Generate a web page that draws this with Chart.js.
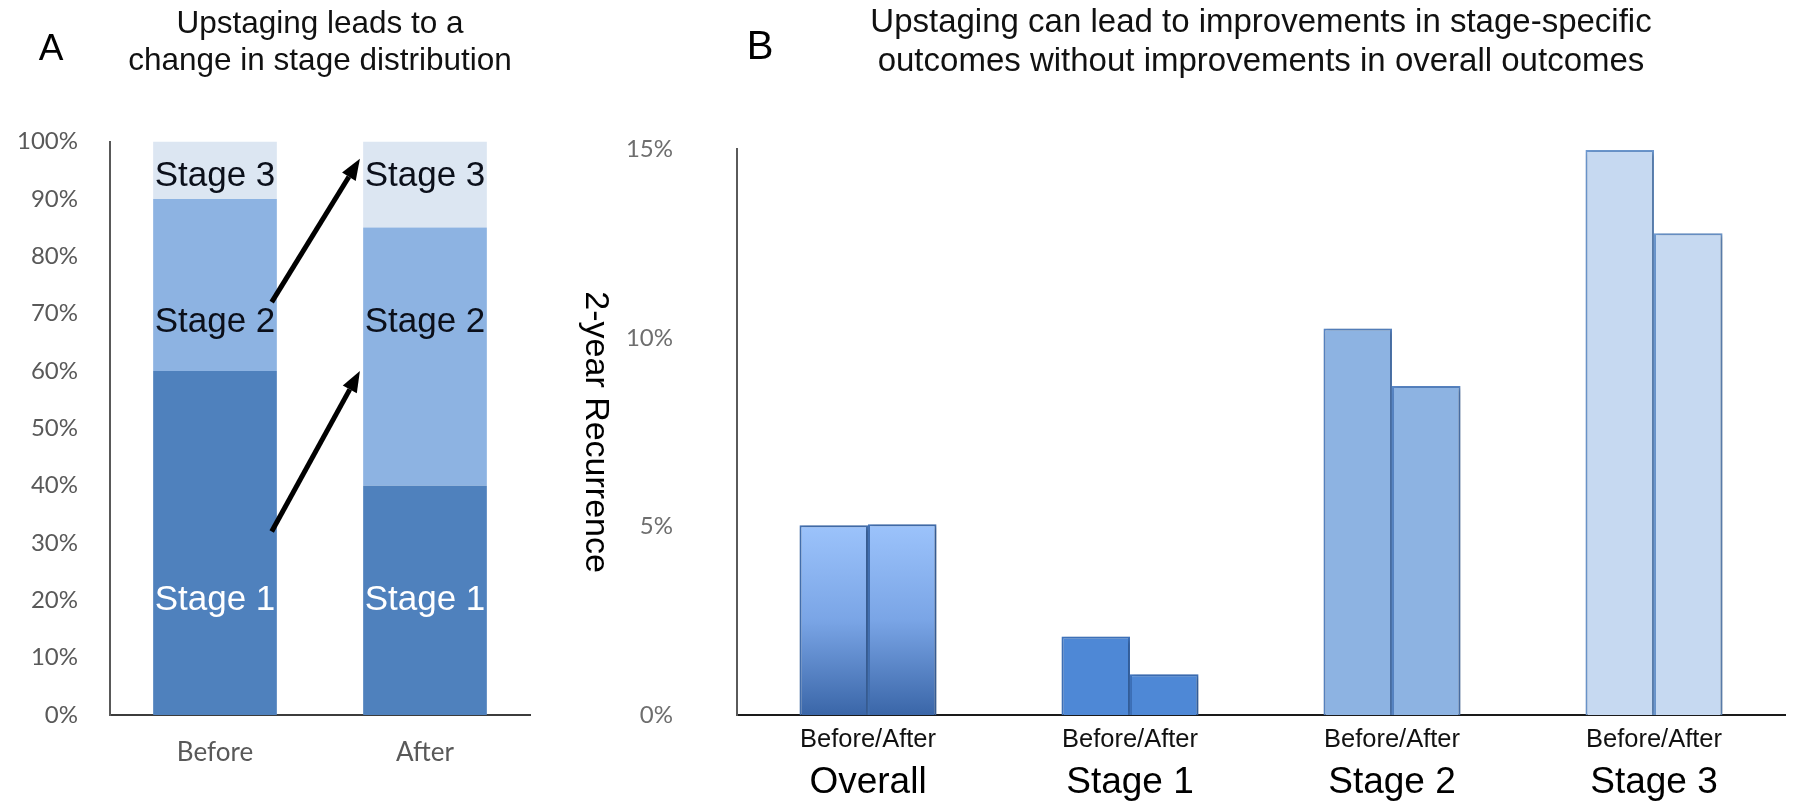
<!DOCTYPE html>
<html>
<head>
<meta charset="utf-8">
<script src="https://cdn.jsdelivr.net/npm/chart.js@4.4.1/dist/chart.umd.min.js"></script>
<style>
  html, body { margin: 0; padding: 0; background: #fff; }
  body { width: 1794px; height: 808px; position: relative; overflow: hidden; }
  #panelA { position: absolute; left: 0; top: 0; width: 560px; height: 808px; }
  #panelB { position: absolute; left: 560px; top: 0; width: 1234px; height: 808px; }
  canvas { display: block; }
</style>
</head>
<body>
<div id="panelA"><canvas id="chartA" width="560" height="808"></canvas></div>
<div id="panelB"><canvas id="chartB" width="1234" height="808"></canvas></div>
<script>
// ---- Panel A: stage distribution before and after upstaging (percent of patients)
const stageCategories = ['Before', 'After'];
const stage1Share = [60, 40];
const stage2Share = [30, 45];
const stage3Share = [10, 15];

// ---- Panel B: 2-year recurrence (%) by group, before and after upstaging
const outcomeGroups = ['Overall', 'Stage 1', 'Stage 2', 'Stage 3'];
const recurrenceBefore = [5.03, 2.08, 10.25, 14.98];
const recurrenceAfter = [5.06, 1.08, 8.72, 12.77];
const pairLabel = 'Before/After';

const SANS = "'Liberation Sans', Arial, Helvetica, sans-serif";
const SOFT = "Lato, 'Open Sans', sans-serif";

// Big panel letter (A / B) in the top-left corner of each chart
const panelLetter = {
  id: 'panelLetter',
  afterDraw(chart, args, opts) {
    const ctx = chart.ctx;
    ctx.save();
    ctx.font = opts.font;
    ctx.fillStyle = opts.color;
    ctx.textAlign = 'center';
    ctx.textBaseline = 'middle';
    ctx.fillText(opts.text, opts.x, opts.y);
    ctx.restore();
  }
};

// Writes each dataset's name inside its stacked segment
const segmentLabels = {
  id: 'segmentLabels',
  afterDatasetsDraw(chart, args, opts) {
    const { ctx, scales: { y } } = chart;
    ctx.save();
    ctx.font = opts.font;
    ctx.textAlign = 'center';
    ctx.textBaseline = 'middle';
    chart.data.datasets.forEach((ds, i) => {
      chart.getDatasetMeta(i).data.forEach(bar => {
        ctx.fillStyle = opts.colors[i];
        ctx.fillText(ds.label, bar.x, y.getPixelForValue(opts.levels[i]));
      });
    });
    ctx.restore();
  }
};

// Arrows showing patients moving up a stage (endpoints in axis units)
const shiftArrows = {
  id: 'shiftArrows',
  afterDatasetsDraw(chart, args, opts) {
    const { ctx, scales: { x, y } } = chart;
    ctx.save();
    ctx.strokeStyle = opts.color;
    ctx.fillStyle = opts.color;
    ctx.lineWidth = opts.lineWidth;
    ctx.lineCap = 'butt';
    opts.arrows.forEach(a => {
      const x0 = x.getPixelForValue(a.from[0]);
      const y0 = y.getPixelForValue(a.from[1]);
      const x1 = x.getPixelForValue(a.to[0]);
      const y1 = y.getPixelForValue(a.to[1]);
      const ang = Math.atan2(y1 - y0, x1 - x0);
      const L = opts.headLength, W = opts.headWidth / 2;
      const bx = x1 - L * Math.cos(ang), by = y1 - L * Math.sin(ang);
      ctx.beginPath();
      ctx.moveTo(x0, y0);
      ctx.lineTo(bx, by);
      ctx.stroke();
      ctx.beginPath();
      ctx.moveTo(x1, y1);
      ctx.lineTo(bx + W * Math.sin(ang), by - W * Math.cos(ang));
      ctx.lineTo(bx - W * Math.sin(ang), by + W * Math.cos(ang));
      ctx.closePath();
      ctx.fill();
    });
    ctx.restore();
  }
};

// Vertical axis title that reads top-to-bottom
const sideTitle = {
  id: 'sideTitle',
  afterDraw(chart, args, opts) {
    const { ctx, chartArea } = chart;
    ctx.save();
    ctx.translate(opts.x, (chartArea.top + chartArea.bottom) / 2);
    ctx.rotate(Math.PI / 2);
    ctx.font = opts.font;
    ctx.fillStyle = opts.color;
    ctx.textAlign = 'center';
    ctx.textBaseline = 'middle';
    ctx.fillText(opts.text, 0, 0);
    ctx.restore();
  }
};

// Soft drop shadow under the recurrence bars
const barShadow = {
  id: 'barShadow',
  beforeDatasetsDraw(chart, args, opts) {
    const ctx = chart.ctx;
    ctx.save();
    ctx.shadowColor = opts.color;
    ctx.shadowBlur = opts.blur;
    ctx.shadowOffsetX = opts.offsetX;
    ctx.shadowOffsetY = opts.offsetY;
  },
  afterDatasetsDraw(chart) {
    chart.ctx.restore();
  }
};

// ---------------- Panel A ----------------
new Chart(document.getElementById('chartA'), {
  type: 'bar',
  data: {
    labels: stageCategories,
    datasets: [
      { label: 'Stage 1', data: stage1Share, backgroundColor: '#4F81BD' },
      { label: 'Stage 2', data: stage2Share, backgroundColor: '#8DB3E2' },
      { label: 'Stage 3', data: stage3Share, backgroundColor: '#DCE6F2' }
    ]
  },
  options: {
    responsive: false,
    animation: false,
    devicePixelRatio: 1,
    layout: { padding: { top: 0, right: 30, bottom: 0, left: 0 } },
    datasets: { bar: { categoryPercentage: 0.589, barPercentage: 1, borderWidth: 0 } },
    scales: {
      x: {
        stacked: true,
        ticks: { font: { family: SOFT, size: 26 }, color: '#595959', padding: 22 },
        grid: { display: false, drawTicks: false },
        border: { display: true, color: '#3c3c3c', width: 2 },
        afterFit: s => { s.height = 93; }
      },
      y: {
        stacked: true,
        min: 0,
        max: 100,
        ticks: { stepSize: 10, callback: v => v + '%', font: { family: SOFT, size: 24 }, color: '#595959', padding: 32 },
        grid: { display: false, drawTicks: false },
        border: { display: true, color: '#595959', width: 2 },
        afterFit: s => { s.width = 110; }
      }
    },
    plugins: {
      legend: { display: false },
      tooltip: { enabled: false },
      title: {
        display: true,
        fullSize: false,
        text: ['Upstaging leads to a', 'change in stage distribution'],
        font: { family: SANS, size: 31.5, weight: 'normal', lineHeight: 1.2 },
        color: '#111',
        padding: { top: 5, bottom: 61 }
      },
      panelLetter: { text: 'A', x: 51, y: 50, font: '37px ' + SANS, color: '#000' },
      segmentLabels: { font: '35px ' + SANS, levels: [20, 68.5, 94], colors: ['#ffffff', '#0b0f1a', '#0b0f1a'] },
      shiftArrows: {
        color: '#000',
        lineWidth: 5,
        headLength: 21,
        headWidth: 16,
        arrows: [
          { from: [0.27, 32], to: [0.69, 60] },
          { from: [0.27, 72], to: [0.69, 97] }
        ]
      }
    }
  },
  plugins: [segmentLabels, shiftArrows, panelLetter]
});

// ---------------- Panel B ----------------
const groupFill = [null, '#4E88D6', '#8DB3E2', '#C6D9F1'];
const groupEdge = ['#4472B4', '#3F74BE', '#5A88C8', '#6E9AD2'];

function fillFor(ctx) {
  const i = ctx.dataIndex;
  if (i !== 0) return groupFill[i];
  const chart = ctx.chart;
  const y = chart.scales.y;
  if (!chart.chartArea || !y) return '#7FA8E8';
  const top = y.getPixelForValue(ctx.raw);
  const bottom = y.getPixelForValue(0);
  const g = chart.ctx.createLinearGradient(0, top, 0, bottom);
  g.addColorStop(0, '#9CC3FB');
  g.addColorStop(0.5, '#7AA5E6');
  g.addColorStop(1, '#3A66A8');
  return g;
}
function edgeFor(ctx) { return groupEdge[ctx.dataIndex]; }

new Chart(document.getElementById('chartB'), {
  type: 'bar',
  data: {
    labels: outcomeGroups,
    datasets: [
      { label: 'Before', data: recurrenceBefore, backgroundColor: fillFor, borderColor: edgeFor, borderWidth: 2 },
      { label: 'After', data: recurrenceAfter, backgroundColor: fillFor, borderColor: edgeFor, borderWidth: 2 }
    ]
  },
  options: {
    responsive: false,
    animation: false,
    devicePixelRatio: 1,
    layout: { padding: { top: 0, right: 9, bottom: 0, left: 0 } },
    datasets: { bar: { categoryPercentage: 0.523, barPercentage: 1 } },
    scales: {
      x: {
        type: 'category',
        weight: 0,
        ticks: { callback: () => pairLabel, font: { family: SANS, size: 25.5 }, color: '#111', padding: 10, maxRotation: 0, autoSkip: false },
        grid: { display: false, drawTicks: false },
        border: { display: true, color: '#1a1a1a', width: 2 },
        afterFit: s => { s.height = 41; }
      },
      x2: {
        type: 'category',
        position: 'bottom',
        weight: 1,
        offset: true,
        labels: outcomeGroups,
        ticks: { font: { family: SANS, size: 37 }, color: '#000', padding: 5, maxRotation: 0, autoSkip: false },
        grid: { display: false, drawTicks: false },
        border: { display: false },
        afterFit: s => { s.height = 52; }
      },
      y: {
        min: 0,
        max: 15,
        ticks: { stepSize: 5, callback: v => v + '%', font: { family: SOFT, size: 24 }, color: '#6e6e6e', padding: 64 },
        grid: { display: false, drawTicks: false },
        border: { display: true, color: '#5a5a5a', width: 2 },
        afterFit: s => { s.width = 177; }
      }
    },
    plugins: {
      legend: { display: false },
      tooltip: { enabled: false },
      title: {
        display: true,
        fullSize: false,
        text: ['Upstaging can lead to improvements in stage-specific', 'outcomes without improvements in overall outcomes'],
        font: { family: SANS, size: 33, weight: 'normal', lineHeight: 1.17 },
        color: '#111',
        padding: { top: 4, bottom: 68 }
      },
      panelLetter: { text: 'B', x: 200, y: 48, font: '40px ' + SANS, color: '#000' },
      sideTitle: { text: '2-year Recurrence', x: 35, font: '34px ' + SANS, color: '#000' },
      barShadow: { color: 'rgba(0,0,0,0.28)', blur: 5, offsetX: 2, offsetY: 1 }
    }
  },
  plugins: [barShadow, sideTitle, panelLetter]
});
</script>
</body>
</html>
